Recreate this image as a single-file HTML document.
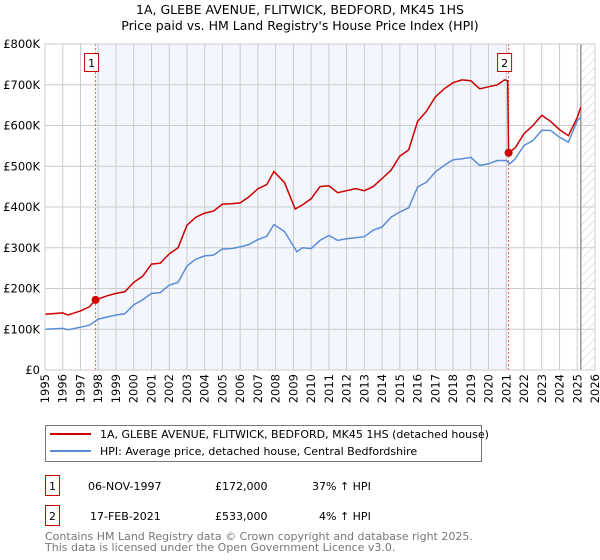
<!DOCTYPE html>
<html><head><meta charset="utf-8"><style>
body{margin:0;background:#fff;font-family:"DejaVu Sans","Liberation Sans",sans-serif;}
svg{display:block}
</style></head><body>
<svg width="600" height="560" xmlns="http://www.w3.org/2000/svg" font-family="DejaVu Sans, Liberation Sans, sans-serif">
<defs><pattern id="hatch" width="6" height="6" patternUnits="userSpaceOnUse" patternTransform="rotate(45)"><line x1="0" y1="0" x2="0" y2="6" stroke="#ccc" stroke-width="1"/></pattern></defs>
<text x="300" y="14" text-anchor="middle" font-size="12.5" fill="#000">1A, GLEBE AVENUE, FLITWICK, BEDFORD, MK45 1HS</text>
<text x="300" y="30" text-anchor="middle" font-size="12.5" fill="#000">Price paid vs. HM Land Registry's House Price Index (HPI)</text>
<g id="plot"></g>
<g>
<rect x="45.5" y="425.5" width="436" height="36" fill="#fff" stroke="#777"/>
<line x1="50" y1="434" x2="91" y2="434" stroke="#cc0000" stroke-width="2"/>
<text x="100" y="438" font-size="11">1A, GLEBE AVENUE, FLITWICK, BEDFORD, MK45 1HS (detached house)</text>
<line x1="50" y1="451" x2="91" y2="451" stroke="#5b8dd6" stroke-width="2"/>
<text x="100" y="455" font-size="11">HPI: Average price, detached house, Central Bedfordshire</text>
</g>
<g font-size="11">
<rect x="45.5" y="475.5" width="14" height="20" fill="#fff" stroke="#cc0000"/>
<text x="52.5" y="490" text-anchor="middle">1</text>
<text x="88" y="490">06-NOV-1997</text>
<text x="215" y="490">£172,000</text>
<text x="312" y="490">37% ↑ HPI</text>
<rect x="45.5" y="505.5" width="14" height="20" fill="#fff" stroke="#cc0000"/>
<text x="52.5" y="520" text-anchor="middle">2</text>
<text x="90" y="520">17-FEB-2021</text>
<text x="215" y="520">£533,000</text>
<text x="319" y="520">4% ↑ HPI</text>
</g>
<g font-size="11" fill="#777">
<text x="45" y="540">Contains HM Land Registry data © Crown copyright and database right 2025.</text>
<text x="45" y="551">This data is licensed under the Open Government Licence v3.0.</text>
</g>
</svg>
<script>
const yTicks=[0,100000,200000,300000,400000,500000,600000,700000,800000];
const yTickLabels=["£0","£100K","£200K","£300K","£400K","£500K","£600K","£700K","£800K"];
const xYears=[1995,1996,1997,1998,1999,2000,2001,2002,2003,2004,2005,2006,2007,2008,2009,2010,2011,2012,2013,2014,2015,2016,2017,2018,2019,2020,2021,2022,2023,2024,2025,2026];
const hpiT=[1995,1996,1996.3,1997,1997.5,1998,1999,1999.5,2000,2000.5,2001,2001.5,2002,2002.5,2003,2003.5,2004,2004.5,2005,2005.5,2006,2006.5,2007,2007.5,2007.9,2008.5,2009.2,2009.5,2010,2010.5,2011,2011.5,2012,2013,2013.5,2014,2014.5,2015,2015.5,2016,2016.5,2017,2017.5,2018,2018.5,2019,2019.5,2020,2020.5,2021,2021.2,2021.5,2022,2022.5,2023,2023.5,2024,2024.5,2025,2025.2];
const hpiV=[100,102,99,105,110,125,135,138,160,172,188,190,208,215,255,272,280,282,297,298,302,308,320,328,357,340,290,300,298,318,330,318,322,327,343,351,375,388,398,449,461,486,502,516,518,522,502,506,514,514,506,518,551,563,588,588,571,559,612,620];
const propT=[1995,1996,1996.3,1997,1997.5,1997.85,1998.5,1999,1999.5,2000,2000.5,2001,2001.5,2002,2002.5,2003,2003.5,2004,2004.5,2005,2005.5,2006,2006.5,2007,2007.5,2007.9,2008.5,2009.1,2009.5,2010,2010.5,2011,2011.5,2012,2012.5,2013,2013.5,2014,2014.5,2015,2015.5,2016,2016.5,2017,2017.5,2018,2018.5,2019,2019.5,2020,2020.5,2020.9,2021.08,2021.13,2021.5,2022,2022.5,2023,2023.5,2024,2024.5,2025,2025.2];
const propV=[137,140,135,145,155,172,182,188,192,215,230,260,262,285,300,355,375,385,390,407,408,410,425,445,455,487,460,395,405,420,450,452,435,440,445,440,450,470,490,525,540,610,635,670,690,705,712,710,690,695,700,712,710,533,545,580,600,625,610,590,575,620,645];
const saleT=[1997.85,2021.13];
const saleV=[172,533];
const saleLabels=["1","2"];
const badgeShift=[-4,-4];

const X0=45,X1=595,Y0=370,Y1=44;
const x=t=>X0+(t-1995)/(2026-1995)*(X1-X0);
const y=v=>Y0-v/800000*(Y0-Y1);
const NS="http://www.w3.org/2000/svg";
const g=document.getElementById('plot');
function mk(tag,attrs,parent){const e=document.createElementNS(NS,tag);for(const k in attrs)e.setAttribute(k,attrs[k]);(parent||g).appendChild(e);return e;}

let r=mk('rect',{x:x(saleT[0]),y:Y1,width:x(saleT[1])-x(saleT[0]),height:Y0-Y1,fill:'#f3f6fd'});


r=mk('rect',{x:x(2025.2),y:Y1,width:X1-x(2025.2),height:Y0-Y1,fill:'url(#hatch)'});


xYears.forEach(yr=>{
  const l=mk('line',{x1:x(yr),x2:x(yr),y1:Y1,y2:Y0,stroke:'#ccc','stroke-width':1});
  
  
  const t=mk('text',{x:0,y:0,'font-size':11.5,'text-anchor':'end',transform:`translate(${x(yr)+4},${Y0+4}) rotate(-90)`});
  t.textContent=yr;
  
  
});
yTicks.forEach((v,i)=>{
  const l=mk('line',{x1:X0,x2:X1,y1:y(v),y2:y(v),stroke:'#ccc','stroke-width':1});
  
  
  const t=mk('text',{x:X0-5,y:y(v)+4,'font-size':11.5,'text-anchor':'end'});
  t.textContent=yTickLabels[i];
  
  
});
let vl=mk('line',{x1:x(2025.2),x2:x(2025.2),y1:Y1,y2:Y0,stroke:'#999','stroke-width':1.5});


saleT.forEach((t,i)=>{
  const l=mk('line',{x1:x(t),x2:x(t),y1:Y1,y2:Y0,stroke:'#e06060','stroke-width':1,'stroke-dasharray':'2,2'});
  
  
});
const pts=(T,V)=>T.map((t,i)=>x(t).toFixed(1)+','+y(V[i]*1000).toFixed(1)).join(' ');
let p=mk('polyline',{points:pts(hpiT,hpiV),fill:'none',stroke:'#5b8dd6','stroke-width':1.5});


p=mk('polyline',{points:pts(propT,propV),fill:'none',stroke:'#cc0000','stroke-width':1.5});


saleT.forEach((t,i)=>{
  const c=mk('circle',{cx:x(t),cy:y(saleV[i]*1000),r:4,fill:'#cc0000'});
  
  
  const bx=x(t)-7+badgeShift[i];
  const b=mk('rect',{x:bx,y:53.5,width:14,height:18,fill:'#fff',stroke:'#cc0000'});
  
  
  const tx=mk('text',{x:bx+7,y:67,'font-size':11,'text-anchor':'middle'});
  tx.textContent=saleLabels[i];
  
  
});
let fr=mk('rect',{x:X0,y:Y1,width:X1-X0,height:Y0-Y1,fill:'none',stroke:'#ccc'});


</script>
</body></html>
